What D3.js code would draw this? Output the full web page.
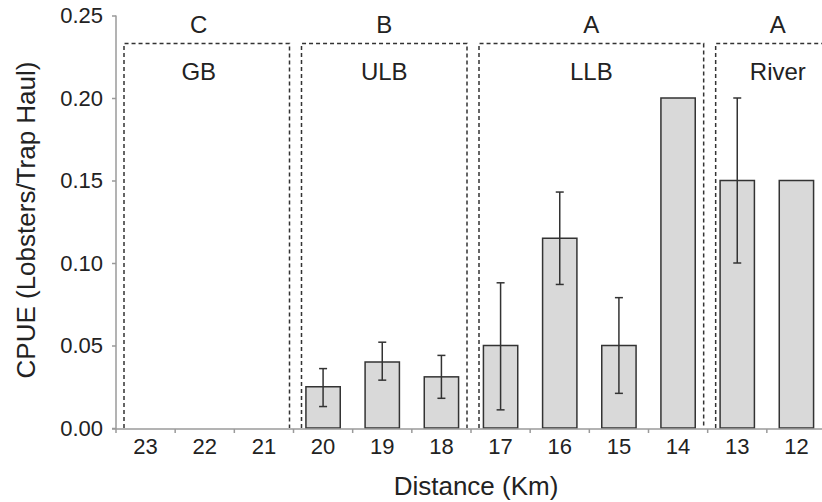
<!DOCTYPE html>
<html>
<head>
<meta charset="utf-8">
<script src="https://cdn.jsdelivr.net/npm/d3@7"></script>
<style>
  html, body { margin: 0; padding: 0; background: #fff; }
  svg { display: block; font-family: "Liberation Sans", Arial, Helvetica, sans-serif; }
</style>
</head>
<body>
<svg id="chart" width="822" height="502"></svg>
<script>
// ---- data ----
const categories = ["23", "22", "21", "20", "19", "18", "17", "16", "15", "14", "13", "12"];
const cpue      = [null, null, null, 0.025, 0.040, 0.031, 0.050, 0.115, 0.050, 0.200, 0.150, 0.150];
const errUpper  = [null, null, null, 0.036, 0.052, 0.044, 0.088, 0.143, 0.079, null, 0.200, null];
const errLower  = [null, null, null, 0.013, 0.029, 0.018, 0.011, 0.087, 0.021, null, 0.100, null];
const yTicks    = [0, 0.05, 0.10, 0.15, 0.20, 0.25];
const groupNames   = ["GB", "ULB", "LLB", "River"];
const groupLetters = ["C", "B", "A", "A"];
const groupMembers = [["23", "22", "21"], ["20", "19", "18"], ["17", "16", "15", "14"], ["13", "12"]];
const xTitle = "Distance (Km)";
const yTitle = "CPUE (Lobsters/Trap Haul)";

// ---- layout ----
(function () {
const svg = d3.select("#chart");
const pL = 116, pR = 826, pB = 428, pT = 15.5;
const x = d3.scaleBand().domain(categories).range([pL, pR]).padding(0);
const y = d3.scaleLinear().domain([0, 0.25]).range([pB, pT]);
const barFrac = 0.58;
const bw = x.bandwidth() * barFrac;
const axisColor = "#9a9a9a";
const ink = "#222";

// dashed group boxes
const boxTop = y(0.233);
groupNames.forEach((name, i) => {
  const mem = groupMembers[i];
  const x0 = x(mem[0]) + 8;
  const isLast = i === groupNames.length - 1;
  const x1 = x(mem[mem.length - 1]) + x.bandwidth() - 4 + (isLast ? 18 : 0);
  const path = isLast
    ? `M${x0},${pB} V${boxTop} H${x1}`
    : `M${x0},${pB} V${boxTop} H${x1} V${pB}`;
  svg.append("path").attr("d", path).attr("fill", "none")
    .attr("stroke", "#333").attr("stroke-width", 1.5).attr("stroke-dasharray", "4,3");
  const cx = (x0 + x1) / 2 - (i === 0 ? 8 : 0);
  svg.append("text").attr("x", cx).attr("y", 33).attr("text-anchor", "middle")
    .attr("font-size", 24).attr("fill", ink).text(groupLetters[i]);
  svg.append("text").attr("x", cx).attr("y", 80).attr("text-anchor", "middle")
    .attr("font-size", 24).attr("fill", ink).text(name);
});

// bars
const data = categories.map((c, i) => ({ c, v: cpue[i], hi: errUpper[i], lo: errLower[i] }));
svg.append("g").selectAll("rect").data(data.filter(d => d.v != null)).join("rect")
  .attr("x", d => x(d.c) + (x.bandwidth() - bw) / 2)
  .attr("y", d => y(d.v))
  .attr("width", bw)
  .attr("height", d => y(0) - y(d.v))
  .attr("fill", "#d9d9d9").attr("stroke", "#333").attr("stroke-width", 1.5);

// error bars
const eg = svg.append("g").attr("stroke", "#333").attr("stroke-width", 1.5);
data.filter(d => d.hi != null).forEach(d => {
  const cx = x(d.c) + x.bandwidth() / 2;
  eg.append("line").attr("x1", cx).attr("x2", cx).attr("y1", y(d.hi)).attr("y2", y(d.lo));
  [d.hi, d.lo].forEach(v => {
    eg.append("line").attr("x1", cx - 4).attr("x2", cx + 4).attr("y1", y(v)).attr("y2", y(v));
  });
});

// y axis
const yAxis = svg.append("g").attr("transform", `translate(${pL},0)`)
  .call(d3.axisLeft(y).tickValues(yTicks).tickFormat(d3.format(".2f")).tickSize(4).tickPadding(9));
yAxis.select(".domain").attr("stroke", axisColor).attr("stroke-width", 1.5).attr("d", `M0,${pT}V${pB + 1}`);
yAxis.selectAll(".tick line").attr("stroke", axisColor).attr("stroke-width", 1.5);
yAxis.selectAll("text").attr("font-size", 22).attr("fill", ink).attr("font-family", "Liberation Sans, Arial, sans-serif");

// x axis
const xAxis = svg.append("g").attr("transform", `translate(0,${pB + 1})`)
  .call(d3.axisBottom(x).tickSize(0).tickPadding(9));
xAxis.select(".domain").attr("stroke", axisColor).attr("stroke-width", 1.5).attr("d", `M${pL - 4},0H${pR}`);
xAxis.selectAll("text").attr("font-size", 22).attr("fill", ink).attr("font-family", "Liberation Sans, Arial, sans-serif");
// boundary ticks between categories
const bounds = categories.map(c => x(c));
svg.append("g").selectAll("line").data(bounds).join("line")
  .attr("x1", d => d).attr("x2", d => d)
  .attr("y1", pB + 1).attr("y2", pB + 5)
  .attr("stroke", axisColor).attr("stroke-width", 1.5);

// titles
svg.append("text").attr("x", 476).attr("y", 495).attr("text-anchor", "middle")
  .attr("font-size", 26).attr("fill", ink).text(xTitle);
svg.append("text").attr("transform", "translate(35,220) rotate(-90)").attr("text-anchor", "middle")
  .attr("font-size", 26).attr("fill", ink).text(yTitle);
})();
</script>
</body>
</html>
